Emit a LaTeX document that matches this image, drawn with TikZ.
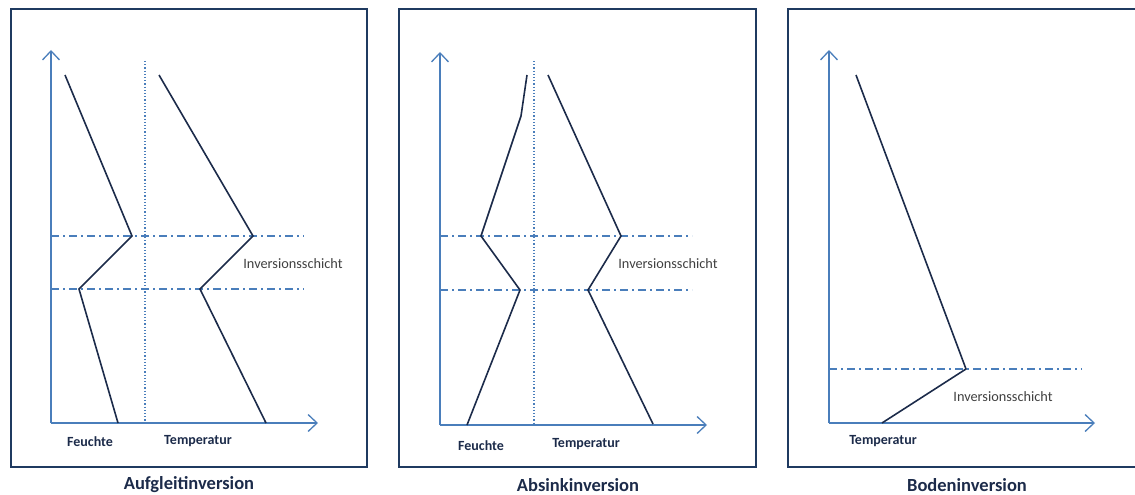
\documentclass[tikz,border=0pt]{standalone}
\usepackage{fontspec}
\setmainfont{Carlito}
\usetikzlibrary{arrows.meta}

\definecolor{rahmen}{HTML}{1F3A60}
\definecolor{achse}{HTML}{4A7EBB}
\definecolor{kurve}{HTML}{1C2B4A}
\definecolor{schrift}{HTML}{404040}

\begin{document}
\begin{tikzpicture}[x=1pt,y=-1pt,
	frame/.style={draw=rahmen,line width=1.5pt},
	axis/.style={draw=achse,line width=1.5pt,-{Straight Barb[length=9pt,width=17pt,line width=1.3pt]}},
	profile/.style={draw=kurve,line width=1.6pt,line join=miter},
	layer/.style={draw=achse,line width=1.2pt,dash pattern=on 8pt off 4pt on 2pt off 4pt},
	middle/.style={draw=achse,line width=1.2pt,dotted},
	axislabel/.style={font=\fontsize{14}{16}\selectfont\bfseries,text=kurve,inner sep=0pt},
	layerlabel/.style={font=\fontsize{14.3}{16}\selectfont,text=schrift,inner sep=0pt},
	title/.style={font=\fontsize{18.5}{20}\selectfont\bfseries,text=kurve,inner sep=0pt}]
	\useasboundingbox (0,0) rectangle (1135,495);

	% Aufgleitinversion
	\draw[frame] (11,9) rectangle (367,467);
	\coordinate (o1) at (51,423);
	\draw[axis] (o1) -- (51,50);
	\draw[axis] (o1) -- (318,423);
	\draw[middle] (145,61) -- (145,423);
	\draw[layer] (51,236) -- (304,236);
	\draw[layer] (51,289) -- (304,289);
	\draw[profile] (65,75) -- (132,236) -- (79,289) -- (118,423);
	\draw[profile] (159,75) -- (253,236) -- (200,289) -- (266,423);
	\node[layerlabel] (inv1) at (293,264) {Inversionsschicht};
	\node[axislabel] (feu1) at (90,442) {Feuchte};
	\node[axislabel] (tem1) at (198,441) {Temperatur};
	\node[title] (tit1) at (189,485) {Aufgleitinversion};

	% Absinkinversion
	\draw[frame] (399,9) rectangle (756,467);
	\coordinate (o2) at (440,425);
	\draw[axis] (o2) -- (440,52);
	\draw[axis] (o2) -- (707,425);
	\draw[middle] (534,61) -- (534,425);
	\draw[layer] (440,236) -- (692,236);
	\draw[layer] (440,290) -- (692,290);
	\draw[profile] (527,75) -- (521,116) -- (481,236) -- (520,290) -- (467,425);
	\draw[profile] (548,75) -- (621,236) -- (588,290) -- (653,424);
	\node[layerlabel] (inv2) at (668,264) {Inversionsschicht};
	\node[axislabel] (feu2) at (481,446) {Feuchte};
	\node[axislabel] (tem2) at (586,444) {Temperatur};
	\node[title] (tit2) at (578,485) {Absinkinversion};

	% Bodeninversion
	\draw[frame] (1145,9) -- (788,9) -- (788,467) -- (1145,467);
	\coordinate (o3) at (829,423);
	\draw[axis] (o3) -- (829,50);
	\draw[axis] (o3) -- (1095,423);
	\draw[layer] (829,369) -- (1082,369);
	\draw[profile] (856,75) -- (966,369) -- (882,423);
	\node[layerlabel] (inv3) at (1003,397) {Inversionsschicht};
	\node[axislabel] (tem3) at (883,441) {Temperatur};
	\node[title] (tit3) at (967,485) {Bodeninversion};
\end{tikzpicture}
\end{document}
